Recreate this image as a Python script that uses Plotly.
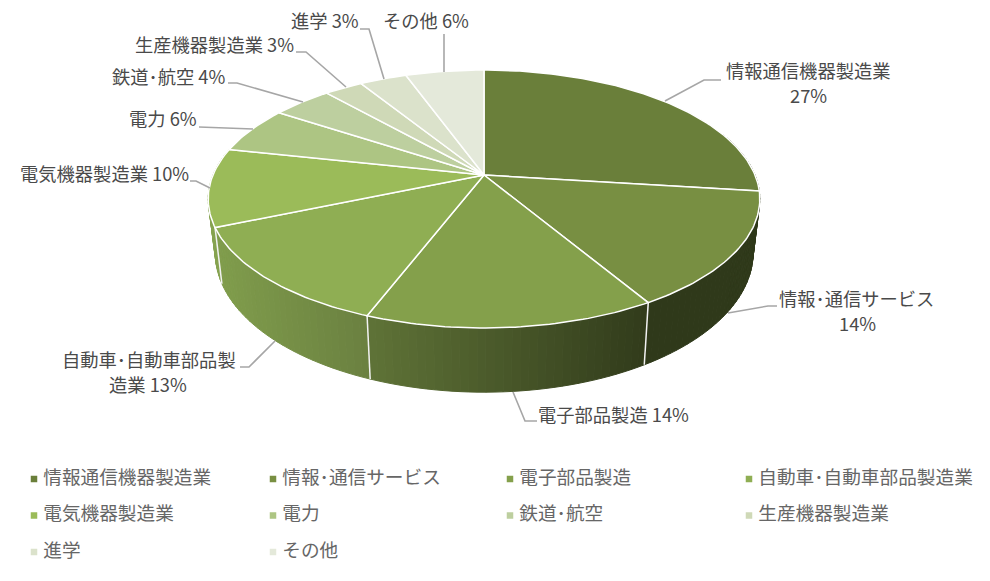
import math
import plotly.graph_objects as go

# ---------- data ----------
categories = ["情報通信機器製造業", "情報･通信サービス", "電子部品製造", "自動車･自動車部品製造業",
              "電気機器製造業", "電力", "鉄道･航空", "生産機器製造業", "進学", "その他"]
shares = [27.0, 14.5, 14.3, 12.8, 9.8, 5.9, 4.2, 2.7, 3.3, 5.5]

# ---------- styles ----------
top_colors = ["#6a7f3a", "#788f42", "#84a04b", "#8fae53", "#9bbb59",
              "#adc583", "#bdcf9f", "#cfd9b7", "#dbe2cb", "#e4e9da"]
wall_colors = [("#2f391a", "#2f391a"), ("#2f391a", "#2f391a"), ("#5f7337", "#313b1b"),
               ("#809d4c", "#6a8040"), ("#86a350", "#809d4c")]
FONT = "Noto Sans CJK JP"
LABEL_COLOR, LEGEND_COLOR = "#4a4a4a", "#666666"
CX, CY, RX, RY, K = 484.0, 175.0, 271.0, 124.5, 0.186
WALL_DY, WALL_SY, WALL_SX, WALL_CX = 52.0, 1.08, 0.975, 490.0


def top_pt(theta):
    u, v = math.sin(theta), math.cos(theta)
    d = 1 + K * v
    return CX + RX * u / d, CY - RY * v / d


def bot_pt(theta):
    x, y = top_pt(theta)
    return WALL_CX + (x - WALL_CX) * WALL_SX, CY + WALL_DY + (y - CY) * WALL_SY


def hex2rgb(h):
    return tuple(int(h[i:i + 2], 16) for i in (1, 3, 5))


def mix(a, b, t):
    ca, cb = hex2rgb(a), hex2rgb(b)
    return "rgb(%d,%d,%d)" % tuple(round(p + (q - p) * t) for p, q in zip(ca, cb))


fig = go.Figure()
total = sum(shares)
edges = [0.0]
for s in shares:
    edges.append(edges[-1] + s / total * 2 * math.pi)


def poly(xs, ys, fill, line=None, width=1.0):
    fig.add_trace(go.Scatter(x=xs, y=ys, mode="lines", fill="toself", fillcolor=fill,
                             line=dict(color=line or fill, width=width),
                             hoverinfo="skip", showlegend=False))


# side wall, drawn as narrow strips so that the shade runs across it
for i in range(5):
    a0, a1 = edges[i], edges[i + 1]
    if i == 0:
        a0 = math.radians(70)
    n = max(2, int(math.degrees(a1 - a0) / 1.5))
    xl = min(bot_pt(a0)[0], bot_pt(a1)[0])
    xr = max(bot_pt(a0)[0], bot_pt(a1)[0])
    for j in range(n):
        t0 = a0 + (a1 - a0) * j / n
        t1 = a0 + (a1 - a0) * (j + 1) / n
        p0, p1, p2, p3 = top_pt(t0), top_pt(t1), bot_pt(t1), bot_pt(t0)
        xm = (p2[0] + p3[0]) / 2
        f = 0 if xr == xl else (xm - xl) / (xr - xl)
        poly([p0[0], p1[0], p2[0], p3[0], p0[0]], [p0[1], p1[1], p2[1], p3[1], p0[1]],
             mix(wall_colors[i][0], wall_colors[i][1], min(1, max(0, f))))

# white seams on the side wall
for i in (2, 3, 4):
    p, q = top_pt(edges[i]), bot_pt(edges[i])
    fig.add_trace(go.Scatter(x=[p[0], q[0]], y=[p[1], q[1]], mode="lines",
                             line=dict(color="#f2f2f2", width=1.5), hoverinfo="skip", showlegend=False))

# top face
for i in range(len(shares)):
    a0, a1 = edges[i], edges[i + 1]
    n = max(3, int(math.degrees(a1 - a0)))
    pts = [top_pt(a0 + (a1 - a0) * j / n) for j in range(n + 1)]
    xs = [CX] + [p[0] for p in pts] + [CX]
    ys = [CY] + [p[1] for p in pts] + [CY]
    poly(xs, ys, top_colors[i], "#ffffff", 1.5)

# leader lines (pixel layout)
leaders = [
    [(665, 101), (704, 80), (721, 80)],
    [(728, 313), (768, 306), (777, 306)],
    [(513, 392), (525, 421), (537, 421)],
    [(275, 341), (249, 367), (240, 367)],
    [(210, 188), (196, 181), (190, 181)],
    [(253, 129), (209, 127), (199, 127)],
    [(303, 102), (237, 83), (228, 83)],
    [(346, 87), (306, 52), (296, 52)],
    [(384, 79), (369, 29), (360, 29)],
    [(444, 72), (444, 34)],
]
for pts in leaders:
    fig.add_trace(go.Scatter(x=[p[0] for p in pts], y=[p[1] for p in pts], mode="lines",
                             line=dict(color="#a6a6a6", width=1.6), hoverinfo="skip", showlegend=False))

# data labels: each line of text is placed on its own
label_lines = []
for i, cat in enumerate(categories):
    pct = "%d%%" % round(shares[i])
    if i in (0, 1):
        label_lines.append([cat, pct])
    elif i == 3:
        label_lines.append(["自動車･自動車部品製", "造業 " + pct])
    else:
        label_lines.append([cat + " " + pct])
label_pos = [[(808, 70), (808, 95)], [(856, 298), (857, 323)], [(613, 414)], [(149, 359), (148, 384)],
             [(104, 173)], [(163, 118)], [(169, 76)], [(214, 44)], [(325, 20)], [(426, 20)]]
for lines, pos in zip(label_lines, label_pos):
    for text, (x, y) in zip(lines, pos):
        fig.add_annotation(x=x, y=y, xref="x", yref="y", text=text, showarrow=False,
                           xanchor="center", yanchor="middle",
                           font=dict(family=FONT, size=18.3, color=LABEL_COLOR))

# legend grid
col_x = [34, 273, 510, 749]
row_y = [479, 515.5, 552]
for i, cat in enumerate(categories):
    fig.add_trace(go.Scatter(x=[col_x[i % 4]], y=[row_y[i // 4]], mode="markers+text", text=[" " + cat],
                             textposition="middle right", name=cat, hoverinfo="name",
                             textfont=dict(family=FONT, size=18.67, color=LEGEND_COLOR),
                             marker=dict(symbol="square", size=6.5, color=top_colors[i]),
                             cliponaxis=False, showlegend=False))

fig.update_layout(
    width=990, height=581, margin=dict(l=0, r=0, t=0, b=0), showlegend=False,
    paper_bgcolor="#ffffff", plot_bgcolor="#ffffff", font=dict(family=FONT),
    xaxis=dict(range=[0, 990], visible=False, fixedrange=True),
    yaxis=dict(range=[581, 0], visible=False, fixedrange=True),
)
fig.write_html("out.html", config={"displayModeBar": False},
               post_script="document.body.style.margin='0';document.body.style.overflow='hidden';")
